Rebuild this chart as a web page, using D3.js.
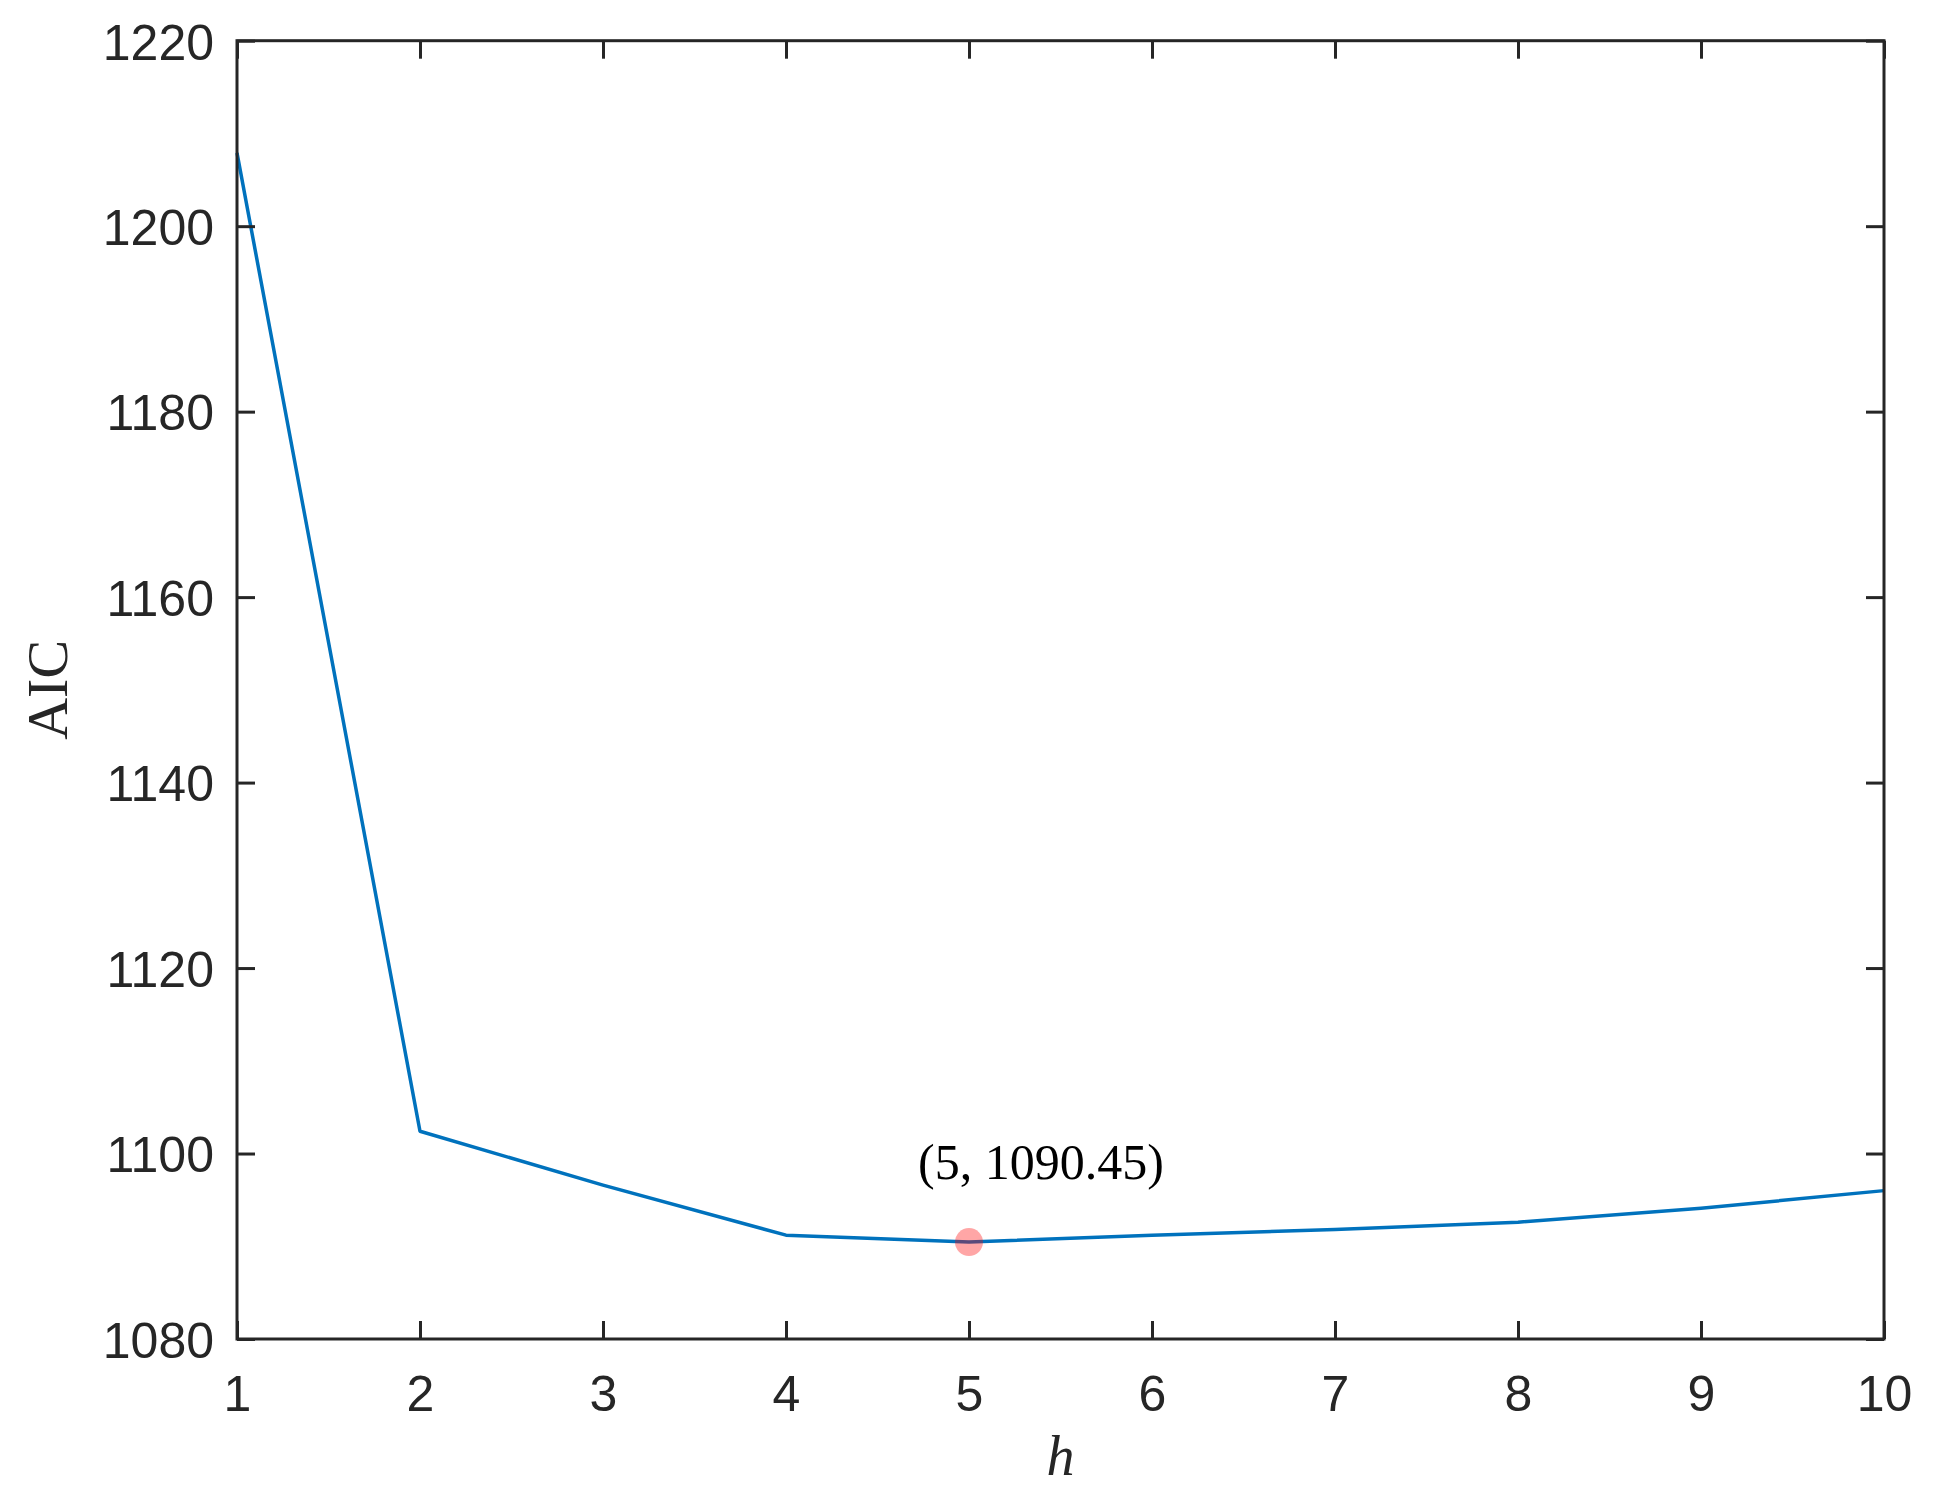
<!DOCTYPE html>
<html>
<head>
<meta charset="utf-8">
<script src="https://cdn.jsdelivr.net/npm/d3@7"></script>
<style>
  html, body { margin: 0; padding: 0; background: #fff; }
  svg { display: block; }
</style>
</head>
<body>
<script>
// ---- data ----
const hValues = [1, 2, 3, 4, 5, 6, 7, 8, 9, 10];
const aicValues = [1207.9, 1102.4, 1096.6, 1091.2, 1090.45, 1091.2, 1091.8, 1092.6, 1094.1, 1096.0];
const xTicks = [1, 2, 3, 4, 5, 6, 7, 8, 9, 10];
const yTicks = [1080, 1100, 1120, 1140, 1160, 1180, 1200, 1220];
const minPoint = [5, 1090.45];
const minLabel = "(5, 1090.45)";
const xLabel = "h";
const yLabel = "AIC";

// ---- layout ----
const W = 1936, H = 1495;
const mLeft = 237, mRight = 1884, mTop = 40.7, mBottom = 1339;
const axisColor = "#262626";
const tickLen = 18;

const svg = d3.select("body").append("svg").attr("width", W).attr("height", H);
svg.append("rect").attr("width", W).attr("height", H).attr("fill", "#fff");

const x = d3.scaleLinear().domain([1, 10]).range([mLeft, mRight]);
const y = d3.scaleLinear().domain([1080, 1220]).range([mBottom, mTop]);

// line
const line = d3.line().x((d, i) => x(hValues[i])).y(d => y(d));
svg.append("path")
  .datum(aicValues)
  .attr("d", line)
  .attr("fill", "none")
  .attr("stroke", "#0072BD")
  .attr("stroke-width", 3.5)
  .attr("stroke-linejoin", "round");

// minimum marker
svg.append("circle")
  .attr("cx", x(minPoint[0]))
  .attr("cy", y(minPoint[1]))
  .attr("r", 14)
  .attr("fill", "#ff0000")
  .attr("fill-opacity", 0.35);

svg.append("text")
  .attr("x", x(minPoint[0]) + 72)
  .attr("y", y(minPoint[1]) - 63)
  .attr("text-anchor", "middle")
  .attr("font-family", "'Liberation Serif', 'Times New Roman', serif")
  .attr("font-size", 50)
  .attr("fill", "#000")
  .text(minLabel);

// axes (box with ticks on all sides)
const fontSans = "'Liberation Sans', Arial, Helvetica, sans-serif";

const xBottom = d3.axisBottom(x).tickValues(xTicks).tickSizeInner(-tickLen).tickSizeOuter(0).tickFormat(d3.format("d"));
const gB = svg.append("g").attr("transform", `translate(0,${mBottom})`).call(xBottom);
const yLeft = d3.axisLeft(y).tickValues(yTicks).tickSizeInner(-tickLen).tickSizeOuter(0).tickFormat(d3.format("d"));
const gL = svg.append("g").attr("transform", `translate(${mLeft},0)`).call(yLeft);
const xTop = d3.axisTop(x).tickValues(xTicks).tickSizeInner(-tickLen).tickSizeOuter(0).tickFormat("");
const gT = svg.append("g").attr("transform", `translate(0,${mTop})`).call(xTop);
const yRight = d3.axisRight(y).tickValues(yTicks).tickSizeInner(-tickLen).tickSizeOuter(0).tickFormat("");
const gR = svg.append("g").attr("transform", `translate(${mRight},0)`).call(yRight);

[gB, gL, gT, gR].forEach(g => {
  g.select(".domain").remove();
  g.selectAll(".tick line").attr("stroke", axisColor).attr("stroke-width", 3);
  g.selectAll("text").attr("font-family", fontSans).attr("font-size", 50).attr("fill", axisColor);
});

// position tick labels precisely
gB.selectAll(".tick text").attr("dy", null).attr("y", 1410.7 - mBottom);
gL.selectAll(".tick text").attr("dy", null).attr("x", 214 - mLeft).attr("y", 18.3);

// box
svg.append("rect")
  .attr("x", mLeft).attr("y", mTop)
  .attr("width", mRight - mLeft).attr("height", mBottom - mTop)
  .attr("fill", "none")
  .attr("stroke", axisColor)
  .attr("stroke-width", 3);

// axis labels
svg.append("text")
  .attr("x", (mLeft + mRight) / 2)
  .attr("y", 1475)
  .attr("text-anchor", "middle")
  .attr("font-family", "'Liberation Serif', 'Times New Roman', serif")
  .attr("font-style", "italic")
  .attr("font-size", 56)
  .attr("fill", axisColor)
  .text(xLabel);

svg.append("text")
  .attr("transform", `translate(67,${(mTop + mBottom) / 2}) rotate(-90)`)
  .attr("text-anchor", "middle")
  .attr("font-family", "'Liberation Serif', 'Times New Roman', serif")
  .attr("font-size", 58)
  .attr("fill", axisColor)
  .text(yLabel);
</script>
</body>
</html>
